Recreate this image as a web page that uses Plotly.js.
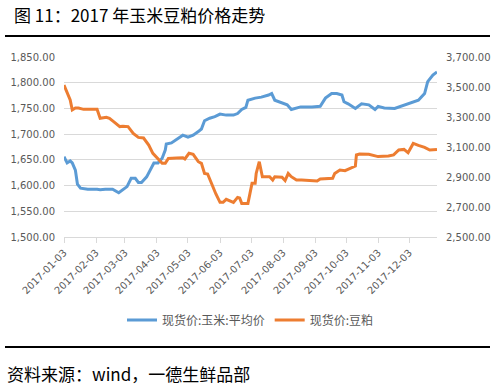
<!DOCTYPE html>
<html>
<head>
<meta charset="utf-8">
<script src="https://cdn.plot.ly/plotly-3.0.1.min.js"></script>
<style>
html,body{margin:0;padding:0;background:#fff;}
#chart{width:495px;height:385px;}
</style>
</head>
<body>
<div id="chart"></div>
<script>
// 现货价:玉米:平均价 (left axis)
var cornDates = ['2017-01-03','2017-01-06','2017-01-09','2017-01-11','2017-01-14','2017-01-16','2017-01-19','2017-01-26','2017-02-04','2017-02-07','2017-02-12','2017-02-19','2017-02-25','2017-02-28','2017-03-05','2017-03-09','2017-03-13','2017-03-16','2017-03-19','2017-03-24','2017-03-29','2017-03-31','2017-04-04','2017-04-08','2017-04-11','2017-04-12','2017-04-17','2017-04-22','2017-04-28','2017-05-03','2017-05-08','2017-05-13','2017-05-16','2017-05-19','2017-05-24','2017-05-29','2017-06-03','2017-06-09','2017-06-16','2017-06-20','2017-06-24','2017-06-28','2017-06-30','2017-07-07','2017-07-13','2017-07-20','2017-07-23','2017-07-26','2017-08-02','2017-08-07','2017-08-11','2017-08-15','2017-08-20','2017-08-31','2017-09-05','2017-09-08','2017-09-13','2017-09-19','2017-09-24','2017-09-29','2017-10-01','2017-10-05','2017-10-12','2017-10-18','2017-10-25','2017-10-31','2017-11-03','2017-11-09','2017-11-19','2017-11-29','2017-12-05','2017-12-12','2017-12-18','2017-12-21','2017-12-26','2017-12-30'];
var cornPrice = [1656,1644,1648,1644,1630,1603,1595,1593,1593,1592,1593,1593,1586,1590,1598,1614,1614,1606,1606,1617,1637,1644,1644,1653,1669,1681,1683,1690,1698,1694,1698,1705,1710,1726,1731,1734,1739,1737,1737,1740,1748,1752,1766,1770,1772,1776,1779,1766,1761,1757,1748,1750,1753,1753,1753,1754,1770,1779,1779,1776,1763,1759,1750,1759,1757,1748,1754,1751,1750,1757,1760,1766,1779,1802,1815,1821];

// 现货价:豆粕 (right axis)
var soyDates = ['2017-01-03','2017-01-06','2017-01-09','2017-01-11','2017-01-14','2017-01-17','2017-01-22','2017-02-04','2017-02-07','2017-02-13','2017-02-16','2017-02-20','2017-02-26','2017-03-01','2017-03-06','2017-03-11','2017-03-16','2017-03-21','2017-03-26','2017-03-30','2017-04-04','2017-04-08','2017-04-11','2017-04-14','2017-04-22','2017-04-28','2017-04-30','2017-05-04','2017-05-08','2017-05-13','2017-05-16','2017-05-19','2017-05-22','2017-05-26','2017-05-30','2017-06-03','2017-06-06','2017-06-09','2017-06-12','2017-06-16','2017-06-20','2017-06-22','2017-06-24','2017-06-30','2017-07-02','2017-07-04','2017-07-07','2017-07-08','2017-07-11','2017-07-13','2017-07-14','2017-07-21','2017-07-24','2017-07-26','2017-08-02','2017-08-05','2017-08-08','2017-08-11','2017-08-16','2017-08-21','2017-08-31','2017-09-05','2017-09-08','2017-09-14','2017-09-20','2017-09-22','2017-09-27','2017-10-02','2017-10-07','2017-10-10','2017-10-12','2017-10-13','2017-10-16','2017-10-25','2017-10-31','2017-11-03','2017-11-13','2017-11-18','2017-11-23','2017-11-28','2017-12-02','2017-12-07','2017-12-12','2017-12-18','2017-12-23','2017-12-26','2017-12-30'];
var soyPrice = [3513,3458,3413,3347,3360,3360,3351,3351,3291,3298,3291,3269,3236,3238,3236,3191,3164,3160,3113,3058,3024,2991,2991,3024,3027,3029,3020,3058,3051,3002,2991,2924,2920,2847,2787,2731,2731,2751,2744,2731,2764,2760,2724,2724,2791,2858,2858,2924,3002,2947,2902,2902,2880,2902,2898,2876,2924,2902,2880,2880,2876,2873,2887,2887,2891,2924,2947,2942,2958,2969,2973,3047,3053,3051,3044,3036,3040,3047,3080,3084,3062,3124,3111,3098,3080,3080,3084];

var tickDates = ['2017-01-03','2017-02-03','2017-03-03','2017-04-03','2017-05-03','2017-06-03','2017-07-03','2017-08-03','2017-09-03','2017-10-03','2017-11-03','2017-12-03'];
var leftTicks = [1500,1550,1600,1650,1700,1750,1800,1850];
var rightTicks = [2500,2700,2900,3100,3300,3500,3700];

var traces = [
  {x: cornDates, y: cornPrice, name: '现货价:玉米:平均价', type: 'scatter', mode: 'lines',
   line: {color: '#5B9BD5', width: 3}, yaxis: 'y'},
  {x: soyDates, y: soyPrice, name: '现货价:豆粕', type: 'scatter', mode: 'lines',
   line: {color: '#ED7D31', width: 3}, yaxis: 'y2'}
];

var tickFont = {family: 'DejaVu Sans, sans-serif', size: 10, color: '#595959'};

var layout = {
  width: 495, height: 385,
  margin: {l: 64, r: 58, t: 57, b: 148, pad: 0},
  paper_bgcolor: '#ffffff', plot_bgcolor: '#ffffff',
  showlegend: true,
  title: {text: '图 11：2017 年玉米豆粕价格走势', xref: 'container', yref: 'container',
          x: 14/495, xanchor: 'left', y: 1 - 16/385, yanchor: 'middle',
          font: {family: 'Noto Sans CJK SC, sans-serif', size: 17, color: '#000000'}},
  xaxis: {type: 'date', range: ['2017-01-03', '2017-12-30'],
          tickmode: 'array', tickvals: tickDates, ticktext: tickDates,
          tickangle: -45, ticks: 'outside', ticklen: 5, tickcolor: '#d9d9d9',
          showline: true, linecolor: '#d9d9d9', linewidth: 1,
          showgrid: false, zeroline: false, tickfont: tickFont, fixedrange: true},
  yaxis: {range: [1500, 1850], tickmode: 'array', tickvals: leftTicks,
          tickformat: ',.2f', showgrid: true, gridcolor: '#d9d9d9', gridwidth: 1,
          zeroline: false, showline: false, ticks: '', ticklabelstandoff: 8,
          tickfont: tickFont},
  yaxis2: {range: [2500, 3700], tickmode: 'array', tickvals: rightTicks,
           tickformat: ',.2f', overlaying: 'y', side: 'right',
           showgrid: false, zeroline: false, showline: false, ticks: '', ticklabelstandoff: 8,
           tickfont: tickFont},
  legend: {orientation: 'h', x: 0.5, xanchor: 'center', y: (237 - 320) / 180, yanchor: 'middle',
           font: {family: 'Noto Sans CJK SC, sans-serif', size: 12, color: '#595959'},
           bgcolor: 'rgba(0,0,0,0)', itemwidth: 30, tracegroupgap: 0},
  shapes: [
    {type: 'line', xref: 'paper', yref: 'paper', x0: (5 - 64) / 373, x1: (490 - 64) / 373,
     y0: (237 - 36) / 180, y1: (237 - 36) / 180, line: {color: '#000000', width: 2}},
    {type: 'line', xref: 'paper', yref: 'paper', x0: (5 - 64) / 373, x1: (490 - 64) / 373,
     y0: (237 - 347) / 180, y1: (237 - 347) / 180, line: {color: '#000000', width: 2}}
  ],
  annotations: [
    {text: '资料来源：wind，一德生鲜品部', xref: 'paper', yref: 'paper',
     x: (5 - 64) / 373, xanchor: 'left', y: (237 - 373) / 180, yanchor: 'middle',
     showarrow: false, font: {family: 'Noto Sans CJK SC, sans-serif', size: 17, color: '#000000'}}
  ]
};

Plotly.newPlot('chart', traces, layout, {displayModeBar: false, staticPlot: true});
</script>
</body>
</html>
